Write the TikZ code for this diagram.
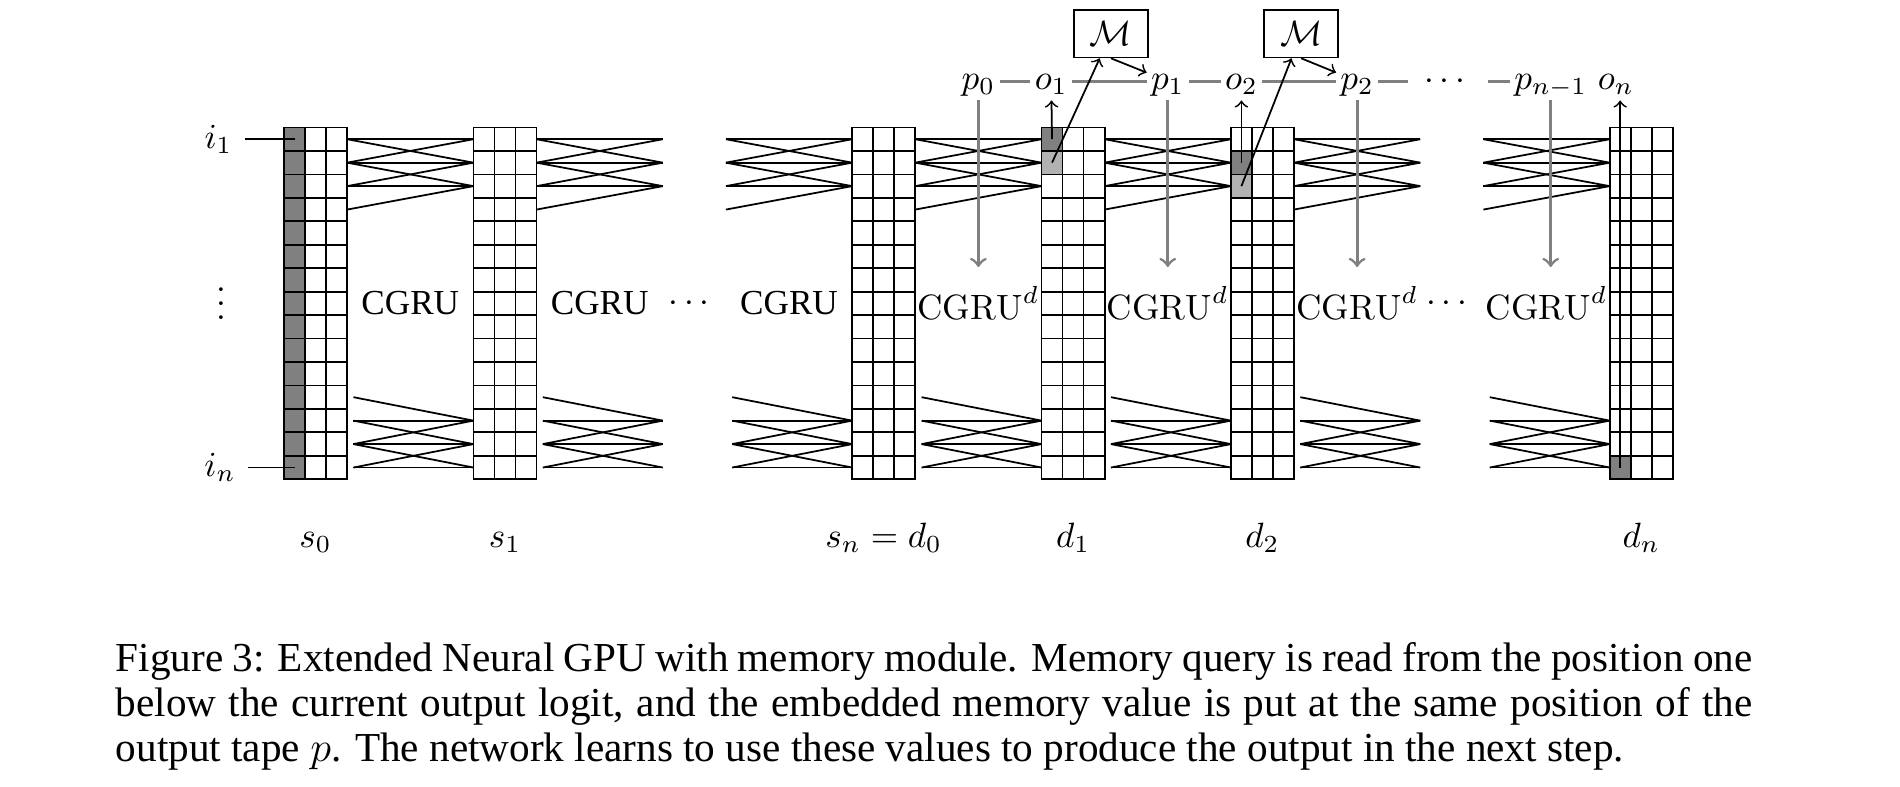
\documentclass[tikz,border=0pt]{standalone}
\usepackage{amsmath}
\usepackage{fontspec}
\newfontfamily\capfont{Liberation Serif}
\usepackage{tikz}
\usetikzlibrary{arrows,positioning,calc}

\tikzset{
    cgru/.style={font=\capfont},
    feed/.style={->,gray,thick},
    chainline/.style={gray,thick},
    tapelbl/.style={anchor=base,inner sep=1pt,text height=6.5pt,text depth=2pt},
    mem/.style={draw,minimum width=21pt,inner sep=3.33pt},
}

\begin{document}
\begin{tikzpicture}[x=0.2104cm,y=0.2345cm,line width=0.5pt]
    \useasboundingbox (-13.498,5.437) rectangle (76.80,-28.08);

    % Shaded cells (input, output logits, memory queries)
    \fill[gray] (0,0) rectangle (1,-15);
    \fill[gray] (36,0) rectangle (37,-1);
    \fill[gray!60] (36,-1) rectangle (37,-2);
    \fill[gray] (45,-1) rectangle (46,-2);
    \fill[gray!60] (45,-2) rectangle (46,-3);
    \fill[gray] (63,-14) rectangle (64,-15);

    % Tapes s_0, s_1, d_0, d_1, d_2, d_n (columns 2 and 6 left out)
    \foreach \k in {0,1,3,4,5,7} {
        \pgfmathsetmacro\xl{9*\k}
        \draw (\xl,0) rectangle (\xl+3,-15);
        \foreach \c in {1,2}
            \draw (\xl+\c,0) -- (\xl+\c,-15);
        \foreach \r in {1,...,14}
            \draw (\xl,-\r) -- (\xl+3,-\r);
    }

    % Convolution wires between tapes
    \foreach \k in {0,...,6} {
        \pgfmathsetmacro\xa{9*\k+3}
        \pgfmathsetmacro\xc{9*\k+3.3}
        \pgfmathsetmacro\xb{9*\k+9}
        \foreach \t/\s in {1/1,1/2,2/1,2/2,2/3,3/2,3/3,3/4}
            \draw (\xa,0.5-\s) -- (\xb,0.5-\t);
        \foreach \t/\s in {13/12,13/13,13/14,14/13,14/14,14/15,15/14,15/15}
            \draw (\xc,0.5-\s) -- (\xb,0.5-\t);
    }

    % Inputs
    \node (i1) at (-3.11,-0.5) {$i_1$};
    \node (in) at (-3.04,-14.5) {$i_n$};
    \node (vd) at (-3.0,-7.05) {$\vdots$};
    \coordinate (c1) at (0.5,-0.5);
    \coordinate (cn) at (0.5,-14.5);
    \draw (i1) -- (c1);
    \draw (in) -- (cn);

    % CGRU layers
    \node[cgru] (g0) at (6,-7.5) {CGRU};
    \node[cgru] (g1) at (15,-7.5) {CGRU};
    \node (gd1) at (19.4,-7.5) {$\cdots$};
    \node[cgru] (g2) at (24,-7.5) {CGRU};
    \node (h0) at (33,-7.5) {$\mathrm{CGRU}^d$};
    \node (h1) at (42,-7.5) {$\mathrm{CGRU}^d$};
    \node (h2) at (51,-7.5) {$\mathrm{CGRU}^d$};
    \node (gd2) at (55.4,-7.5) {$\cdots$};
    \node (h3) at (60,-7.5) {$\mathrm{CGRU}^d$};

    % Tape names
    \node[anchor=base] (ls0) at (1.5,-17.91) {$s_0$};
    \node[anchor=base] (ls1) at (10.5,-17.91) {$s_1$};
    \node[anchor=base] (ld0) at (28.5,-17.91) {$s_n = d_0$};
    \node[anchor=base] (ld1) at (37.5,-17.91) {$d_1$};
    \node[anchor=base] (ld2) at (46.5,-17.91) {$d_2$};
    \node[anchor=base] (ldn) at (64.5,-17.91) {$d_n$};

    % Output tape p and outputs o
    \node[tapelbl] (p0) at (33,1.64) {$p_0$};
    \node[tapelbl] (o1) at (36.46,1.64) {$o_1$};
    \node[tapelbl] (p1) at (42,1.64) {$p_1$};
    \node[tapelbl] (o2) at (45.5,1.64) {$o_2$};
    \node[tapelbl] (p2) at (51,1.64) {$p_2$};
    \node[tapelbl,inner xsep=4.5pt] (pd) at (55.3,1.64) {$\cdots$};
    \node[tapelbl] (pn1) at (60.2,1.64) {$p_{n-1}$};
    \node[tapelbl] (on) at (63.3,1.64) {$o_n$};
    \draw[chainline] (p0) -- (o1) -- (p1) -- (o2) -- (p2) -- (pd) -- (pn1);

    % p feeds the decoder
    \foreach \p/\x [count=\i] in {p0/33,p1/42,p2/51,pn1/60.2} {
        \coordinate (f\i) at (\x,-5.95);
        \draw[feed] (\p) -- (f\i);
    }

    % Output logits
    \coordinate (r1) at (36.5,-0.5);
    \coordinate (r2) at (45.5,-1.5);
    \coordinate (rn) at (63.5,-14.5);
    \draw[->] (r1) -- (o1);
    \draw[->] (r2) -- (o2);
    \draw[->] (rn) -- (rn |- on.south);

    % Memory
    \node[mem] (m1) at (39.3,4.0) {$\mathcal{M}$};
    \node[mem] (m2) at (48.34,4.0) {$\mathcal{M}$};
    \coordinate (q1) at (36.5,-1.5);
    \coordinate (q2) at (45.5,-2.5);
    \draw[->] (q1) -- (m1);
    \draw[->] (m1.south) -- (p1);
    \draw[->] (q2) -- (m2);
    \draw[->] (m2.south) -- (p2);

    % Caption
    \node[anchor=base west,inner sep=0pt,text width=465.6pt,align=justify,
          font=\capfont\fontsize{11.72}{12.9}\selectfont] (cap) at (-8.03,-23.18)
        {Figure 3: Extended Neural GPU with memory module. Memory query is read from the position one below the current output logit, and the embedded memory value is put at the same position of the output tape $p$. The network learns to use these values to produce the output in the next step.};
\end{tikzpicture}
\end{document}
